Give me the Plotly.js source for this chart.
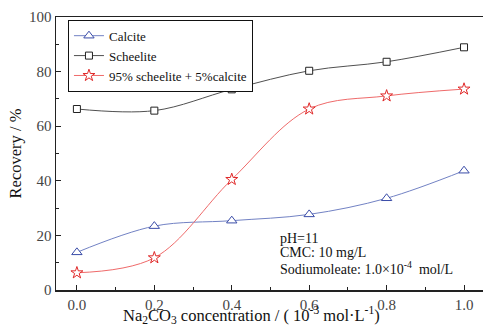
<!DOCTYPE html>
<html><head><meta charset="utf-8">
<script src="https://cdn.plot.ly/plotly-3.0.1.min.js"></script>
<style>html,body{margin:0;padding:0;background:#fff;}#c{width:483px;height:329px;}</style>
</head><body><div id="c"></div>
<script>
const concentration = [0.0, 0.2, 0.4, 0.6, 0.8, 1.0];
const calcite = [13.8, 23.4, 25.4, 27.7, 33.6, 43.7];
const scheelite = [66.3, 65.7, 73.5, 80.3, 83.6, 88.9];
const mixture = [6.3, 11.8, 40.5, 66.3, 71.1, 73.6];
const seriesNames = ["Calcite", "Scheelite", "95% scheelite + 5%calcite"];
const xTicks = [0.0, 0.2, 0.4, 0.6, 0.8, 1.0];
const xTickText = ["0.0", "0.2", "0.4", "0.6", "0.8", "1.0"];
const yTicks = [0, 20, 40, 60, 80, 100];
const noteLines = ["pH=11", "CMC: 10 mg/L", "Sodiumoleate: 1.0\u00d710<sup>-4</sup>  mol/L"];
const xTitle = "Na<sub>2</sub>CO<sub>3</sub> concentration / ( 10<sup>-3</sup> mol\u00b7L<sup>-1</sup>)";

const serif = "Liberation Serif";
function tr(y, name, lineColor, markColor, symbol, size) {
  return {x: concentration, y: y, name: name, type: 'scatter', mode: 'lines+markers',
    line: {color: lineColor, width: 1, shape: 'spline', smoothing: 1},
    marker: {symbol: symbol, size: size, color: 'white', line: {color: markColor, width: 1}}};
}
const data = [
  tr(calcite, seriesNames[0], '#7282c4', '#3a4ca8', 'triangle-up', 9),
  tr(scheelite, seriesNames[1], '#505050', '#222', 'square', 7),
  tr(mixture, seriesNames[2], '#ef6a6a', '#e02828', 'star', 9)
];
const noteY = [0.19, 0.139, 0.082];
const annotations = noteLines.map((t, i) => ({xref: 'paper', yref: 'paper', x: 0.519, y: noteY[i],
  xanchor: 'left', yanchor: 'middle', showarrow: false, align: 'left', text: t,
  font: {family: serif, size: 14, color: '#111'}}));
annotations.push({xref: 'paper', yref: 'paper', x: 0.457, y: -0.092, xanchor: 'center', yanchor: 'middle',
  showarrow: false, text: xTitle, font: {family: serif, size: 16.5, color: '#111'}});
const layout = {
  width: 483, height: 329,
  margin: {l: 56, r: 0, t: 17, b: 39},
  paper_bgcolor: '#fff', plot_bgcolor: '#fff',
  font: {family: serif, size: 14, color: '#222'},
  showlegend: true,
  legend: {x: 0.028, y: 0.99, xanchor: 'left', yanchor: 'top', bgcolor: '#fff',
    bordercolor: '#111', borderwidth: 1, font: {family: serif, size: 13, color: '#111'},
    tracegroupgap: 0, itemwidth: 30},
  xaxis: {range: [-0.054, 1.049], tickvals: xTicks, ticktext: xTickText,
    ticks: 'inside', ticklen: 5, tickcolor: '#222', showgrid: false, zeroline: false,
    showline: true, linecolor: '#222', linewidth: 1.5, mirror: true,
    minor: {dtick: 0.1, tick0: 0, ticks: 'inside', ticklen: 3, tickcolor: '#222'},
    tickfont: {family: serif, size: 15, color: '#444'}},
  yaxis: {range: [0, 100], tickvals: yTicks,
    ticks: 'inside', ticklen: 5, tickcolor: '#222', showgrid: false, zeroline: false,
    showline: true, linecolor: '#222', linewidth: 1.5,
    minor: {dtick: 10, tick0: 0, ticks: 'inside', ticklen: 3, tickcolor: '#222'},
    tickfont: {family: serif, size: 15, color: '#444'},
    title: {text: 'Recovery / %', font: {family: serif, size: 16.5, color: '#111'}, standoff: 3}},
  annotations: annotations
};
Plotly.newPlot('c', data, layout, {displayModeBar: false, staticPlot: true});
</script></body></html>
